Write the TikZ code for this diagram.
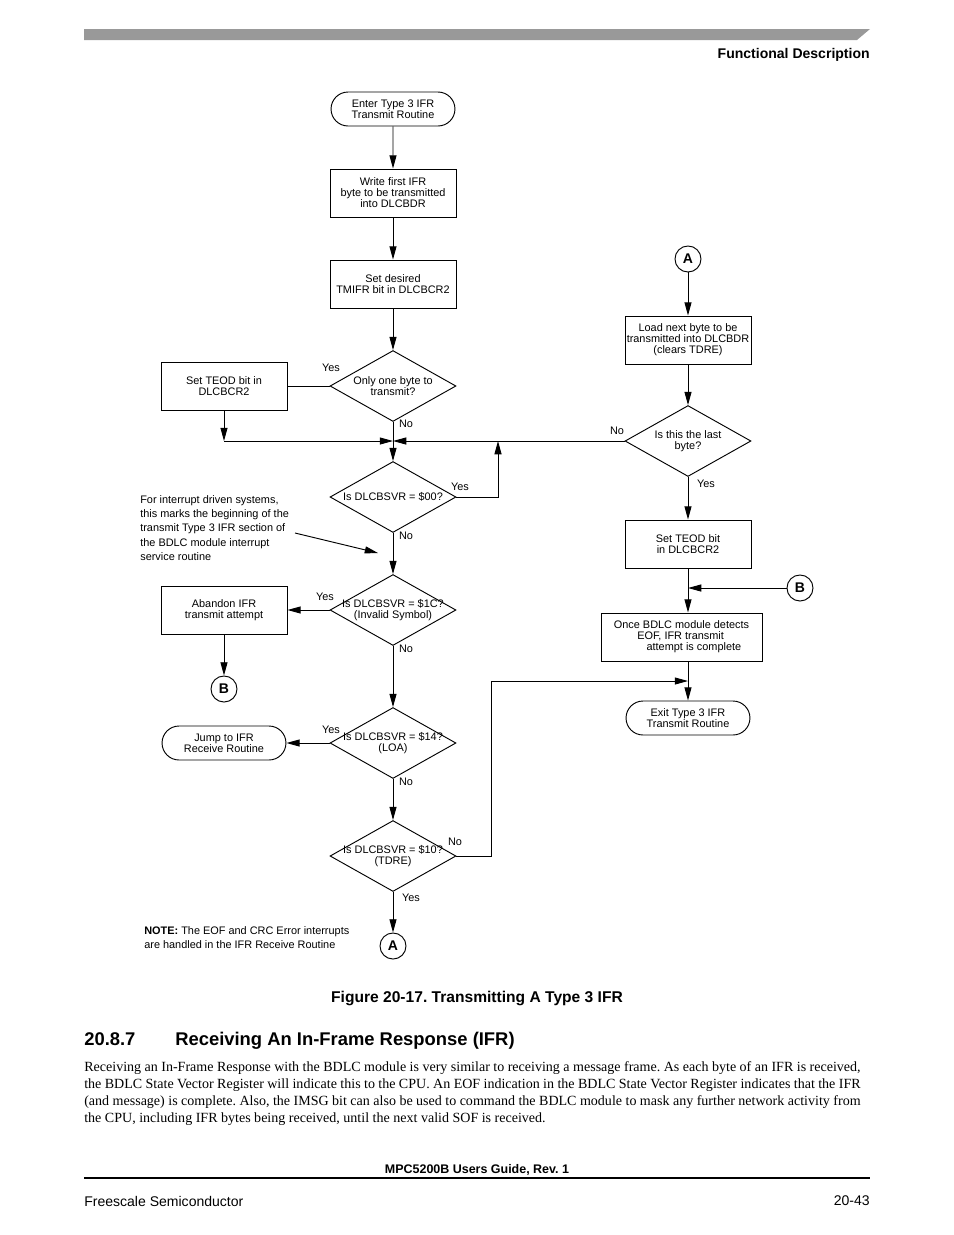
\documentclass[tikz,border=0pt]{standalone}
\usepackage{fontspec}
\setmainfont{Liberation Serif}
\setsansfont{Liberation Sans}
\usetikzlibrary{arrows.meta,shapes.geometric,shapes.misc}
\frenchspacing

\tikzset{
  flowtext/.style={font=\sffamily\fontsize{7}{7.1}\selectfont, align=center},
  process/.style={flowtext, draw, line width=0.6pt, rectangle, minimum width=80.8pt, minimum height=30.8pt, inner sep=1pt},
  terminal/.style={flowtext, draw, line width=0.6pt, rounded rectangle, minimum width=81.5pt, minimum height=21.8pt, inner sep=1pt},
  decision/.style={draw, line width=0.6pt, diamond, minimum width=80.8pt, minimum height=45.5pt, inner sep=0pt},
  dtext/.style={flowtext, inner sep=0pt},
  offpage/.style={draw, line width=0.6pt, circle, minimum size=16.7pt, inner sep=0pt, font=\sffamily\bfseries\fontsize{9}{9}\selectfont},
  yesno/.style={font=\sffamily\fontsize{7}{7.1}\selectfont, inner sep=0pt},
  arr/.style={line width=0.6pt, -{Triangle[length=8.5pt,width=4.5pt]}},
  wire/.style={line width=0.6pt},
  pagetext/.style={inner sep=0pt},
}

\begin{document}
\begin{tikzpicture}[x=0.6415pt,y=-0.6415pt]
  %%%%% PAGE %%%%%
  \useasboundingbox (0,0) rectangle (954,1235);
  \fill[black!40] (84,29) -- (870,29) -- (857,40) -- (84,40) -- cycle;
  \node[pagetext, anchor=east, font=\sffamily\bfseries\fontsize{9}{10}\selectfont] (chapter) at (870,55) {Functional Description};

  %%%%% LEFT COLUMN %%%%%
  \node[terminal] (enter) at (393,109) {Enter Type 3 IFR\\Transmit Routine};
  \node[process] (firstbyte) at (393,193) {Write first IFR\\byte to be transmitted\\into DLCBDR};
  \node[process] (tmifr) at (393,284) {Set desired\\TMIFR bit in DLCBCR2};
  \node[decision, label={[dtext]center:{Only one byte to\\transmit?}}] (onebyte) at (393,386) {};
  \node[process] (teodl) at (224,386) {Set TEOD bit in\\DLCBCR2};
  \node[decision, label={[dtext]center:{Is DLCBSVR = \$00?}}] (sv00) at (393,497) {};
  \node[decision, label={[dtext]center:{Is DLCBSVR = \$1C?\\(Invalid Symbol)}}] (sv1c) at (393,610) {};
  \node[process] (abandon) at (224,610) {Abandon IFR\\transmit attempt};
  \node[offpage] (bleft) at (224,689) {B};
  \node[decision, label={[dtext]center:{Is DLCBSVR = \$14?\\(LOA)}}] (sv14) at (393,743) {};
  \node[terminal] (jump) at (224,743) {Jump to IFR\\Receive Routine};
  \node[decision, label={[dtext]center:{Is DLCBSVR = \$10?\\(TDRE)}}] (sv10) at (393,856) {};
  \node[offpage] (aleft) at (393,946) {A};

  \node[yesno, anchor=north west, align=left, font=\sffamily\fontsize{7}{9.2}\selectfont] (isrnote) at (140,495)
    {For interrupt driven systems,\\this marks the beginning of the\\transmit Type 3 IFR section of\\the BDLC module interrupt\\service routine};
  \node[yesno, anchor=north west, align=left, font=\sffamily\fontsize{7}{9}\selectfont] (crcnote) at (144,926)
    {\textbf{NOTE:} The EOF and CRC Error interrupts\\are handled in the IFR Receive Routine};

  %%%%% RIGHT COLUMN %%%%%
  \node[offpage] (aright) at (688,259) {A};
  \node[process] (loadnext) at (688,340) {Load next byte to be\\transmitted into DLCBDR\\(clears TDRE)};
  \node[decision, label={[dtext]center:{Is this the last\\byte?}}] (lastbyte) at (688,441) {};
  \node[process] (teodr) at (688,544) {Set TEOD bit\\in DLCBCR2};
  \node[offpage] (bright) at (800,588) {B};
  \node[process, minimum width=103.3pt, align=left] (eofdone) at (681.5,637)
    {Once BDLC module detects\\\hspace*{15pt}EOF, IFR transmit\\\hspace*{21pt}attempt is complete};
  \node[terminal] (exit) at (688,718) {Exit Type 3 IFR\\Transmit Routine};

  \coordinate (merge) at (393,441);
  \coordinate (mergel) at (224,441);
  \coordinate (merger) at (498,441);
  \coordinate (bjoin) at (688,588);
  \coordinate (ajoin) at (688,681);
  \coordinate (isrtail) at (295,533);
  \coordinate (isrtip) at (378,553);

  %%%%% CONNECTORS %%%%%
  \draw[arr] (enter) -- (firstbyte);
  \draw[arr] (firstbyte) -- (tmifr);
  \draw[arr] (tmifr) -- (onebyte.north);
  \draw[wire] (onebyte.west) -- (teodl.east);
  \draw[arr] (teodl.south) -- (mergel);
  \draw[arr] (mergel) -- (merge);
  \draw[arr] (lastbyte.west) -- (merge);
  \draw[arr] (onebyte.south) -- (sv00.north);
  \draw[arr] (sv00.east) -| (merger);
  \draw[arr] (sv00.south) -- (sv1c.north);
  \draw[arr] (isrtail) -- (isrtip);
  \draw[arr] (sv1c.west) -- (abandon.east);
  \draw[arr] (abandon.south) -- (bleft.north);
  \draw[arr] (sv1c.south) -- (sv14.north);
  \draw[arr] (sv14.west) -- (jump.east);
  \draw[arr] (sv14.south) -- (sv10.north);
  \draw[arr] (sv10.south) -- (aleft.north);
  \draw[arr] (sv10.east) -- ++(35,0) |- (ajoin);

  \draw[arr] (aright.south) -- (loadnext.north);
  \draw[arr] (loadnext.south) -- (lastbyte.north);
  \draw[arr] (lastbyte.south) -- (teodr.north);
  \draw[arr] (teodr.south) -- (teodr.south |- eofdone.north);
  \draw[arr] (bright.west) -- (bjoin);
  \draw[arr] (eofdone.south -| exit.north) -- (exit.north);

  %%%%% YES / NO %%%%%
  \node[yesno] (y1) at (331,368) {Yes};
  \node[yesno] (n1) at (406,424) {No};
  \node[yesno] (y2) at (460,487) {Yes};
  \node[yesno] (n2) at (406,536) {No};
  \node[yesno] (y3) at (325,597) {Yes};
  \node[yesno] (n3) at (406,649) {No};
  \node[yesno] (y4) at (331,730) {Yes};
  \node[yesno] (n4) at (406,782) {No};
  \node[yesno] (n5) at (455,842) {No};
  \node[yesno] (y5) at (411,898) {Yes};
  \node[yesno] (n6) at (617,431) {No};
  \node[yesno] (y6) at (706,484) {Yes};

  %%%%% TEXT %%%%%
  \node[pagetext, font=\sffamily\bfseries\fontsize{10}{12}\selectfont] (figcap) at (477,998) {Figure 20-17. Transmitting A Type 3 IFR};
  \node[pagetext, anchor=base west, font=\sffamily\bfseries\fontsize{11.8}{14}\selectfont] (secnum) at (84,1045) {20.8.7};
  \node[pagetext, anchor=base west, font=\sffamily\bfseries\fontsize{11.8}{14}\selectfont] (sectitle) at (175,1045) {Receiving An In-Frame Response (IFR)};
  \node[pagetext, anchor=north west, text width=498pt, align=justify, font=\fontsize{9}{10.9}\selectfont] (body) at (84,1061)
    {Receiving an In-Frame Response with the BDLC module is very similar to receiving a message frame. As each byte of an IFR is received,\linebreak
     the BDLC State Vector Register will indicate this to the CPU. An EOF indication in the BDLC State Vector Register indicates that the IFR\linebreak
     (and message) is complete. Also, the IMSG bit can also be used to command the BDLC module to mask any further network activity from\linebreak
     the CPU, including IFR bytes being received, until the next valid SOF is received.};
  \node[pagetext, font=\sffamily\bfseries\fontsize{8}{10}\selectfont] (guide) at (477,1170) {MPC5200B Users Guide, Rev. 1};
  \draw[line width=0.8pt] (84,1178) -- (870,1178);
  \node[pagetext, anchor=west, font=\sffamily\fontsize{9}{10}\selectfont] (vendor) at (84,1201) {Freescale Semiconductor};
  \node[pagetext, anchor=east, font=\sffamily\fontsize{9}{10}\selectfont] (pageno) at (870,1201) {20-43};
\end{tikzpicture}
\end{document}
